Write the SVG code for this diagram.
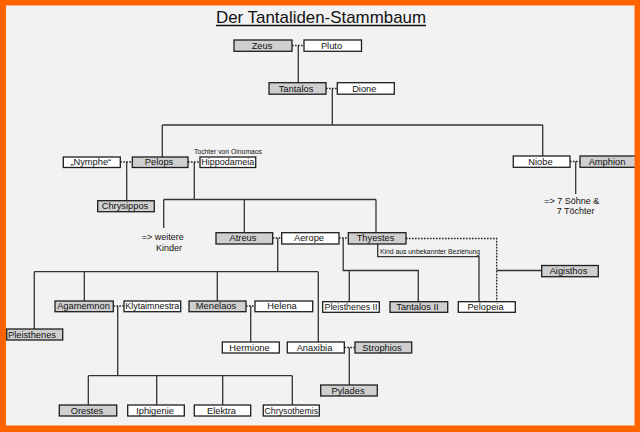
<svg xmlns="http://www.w3.org/2000/svg" width="640" height="432" viewBox="0 0 640 432">
<style>
.bg{fill:#f2f2f2}
.frame{fill:#ff6400;fill-rule:evenodd}
.n rect{stroke:#1e1e1e;stroke-width:1.3}
.g rect{fill:#cfcfcf}
.w rect{fill:#ffffff}
.n text{font-family:"Liberation Sans",Arial,sans-serif;font-size:9.3px;fill:#111;text-anchor:middle}
.c path{fill:none;stroke:#333;stroke-width:1.3}
.c path.d{stroke:#222;stroke-dasharray:1.6 1.4}
.t{font-family:"Liberation Sans",Arial,sans-serif;fill:#111}
</style>
<rect class="bg" x="0" y="0" width="640" height="432"/>
<g id="title">
<text class="t" x="216" y="23" font-size="17" textLength="210" lengthAdjust="spacingAndGlyphs">Der Tantaliden-Stammbaum</text>
<path d="M216,25.5 H426" stroke="#111" stroke-width="1.4"/>
</g>
<g id="connectors" class="c">
<path d="M298.3,45.5 V82.7"/>
<path d="M332.3,88.5 V125 M162.3,125 H542.7 M162.3,125 V157 M542.7,125 V156"/>
<path d="M126.7,162 V200.7"/>
<path d="M194.3,162 V199.5 M163.7,199.5 H376 M163.7,199.5 V228 M244.3,199.5 V232.7 M376,199.5 V232.7"/>
<path d="M575.7,161.5 V194"/>
<path d="M277.7,238 V271.7 M34.3,271.7 H318.3 M34.3,271.7 V329 M84.3,271.7 V301 M217.3,271.7 V301 M318.3,271.7 V342"/>
<path d="M343.2,238 V270.5 H418.3 V301.7 M349.3,270.5 V301.7"/>
<path d="M377.7,244 V256.7 H479 V301.7"/>
<path d="M496.7,270.5 H541.7"/>
<path d="M117.7,306 V375.7 M88.3,375.7 H292.3 M88.3,375.7 V405 M156.7,375.7 V405 M222.7,375.7 V405 M292.3,375.7 V405"/>
<path d="M250.7,306 V342"/>
<path d="M349.3,347.5 V385"/>
<path class="d" d="M292,45.5 H304"/>
<path class="d" d="M326,88.5 H337.3"/>
<path class="d" d="M120.3,162 H132.3"/>
<path class="d" d="M188,162 H200"/>
<path class="d" d="M570,161.5 H580"/>
<path class="d" d="M272.7,238 H281.7"/>
<path class="d" d="M339,238 H348.3"/>
<path class="d" d="M406,238.5 H496.7 V301.7"/>
<path class="d" d="M113.3,306 H124"/>
<path class="d" d="M246,306 H255"/>
<path class="d" d="M344.3,347.5 H355"/>
</g>
<g id="zeus" class="n g"><rect x="234" y="40" width="58" height="11.3"/><text x="262" y="48.8">Zeus</text></g>
<g id="pluto" class="n w"><rect x="304" y="40" width="57.5" height="11.3"/><text x="331.5" y="48.8">Pluto</text></g>
<g id="tantalos" class="n g"><rect x="269" y="82.7" width="57" height="11.5"/><text x="296" y="91.5">Tantalos</text></g>
<g id="dione" class="n w"><rect x="337.3" y="82.7" width="57" height="11.5"/><text x="364.3" y="91.5">Dione</text></g>
<g id="nymphe" class="n w"><rect x="63.3" y="157" width="57" height="10.5"/><text x="90.8" y="165.3">„Nymphe“</text></g>
<g id="pelops" class="n g"><rect x="132.3" y="157" width="55.7" height="10.5"/><text x="159" y="165.3">Pelops</text></g>
<g id="hippodameia" class="n w"><rect x="200" y="157" width="55.7" height="10.5"/><text x="227.8" y="165.3" textLength="53" lengthAdjust="spacingAndGlyphs">Hippodameia</text></g>
<text class="t" x="194" y="153.5" font-size="6.8">Tochter von Oinomaos</text>
<g id="chrysippos" class="n g"><rect x="97.7" y="200.7" width="56.6" height="11"/><text x="125" y="209.3">Chrysippos</text></g>
<g id="niobe" class="n w"><rect x="513.3" y="156" width="56.7" height="11.3"/><text x="540.5" y="164.6">Niobe</text></g>
<g id="amphion" class="n g"><rect x="580" y="156" width="56" height="11.3"/><text x="607" y="164.6">Amphion</text></g>
<text class="t" x="544.3" y="204" font-size="9">=&gt; 7 Söhne &amp;</text>
<text class="t" x="556.7" y="214" font-size="9">7 Töchter</text>
<text class="t" x="141.7" y="240" font-size="9">=&gt; weitere</text>
<text class="t" x="156" y="251" font-size="9">Kinder</text>
<g id="atreus" class="n g"><rect x="216" y="232.7" width="56.7" height="11.3"/><text x="243" y="241.4">Atreus</text></g>
<g id="aerope" class="n w"><rect x="281.7" y="232.7" width="57.3" height="11.3"/><text x="309" y="241.4">Aerope</text></g>
<g id="thyestes" class="n g"><rect x="348.3" y="232.7" width="57.7" height="11.3"/><text x="375.5" y="241.4">Thyestes</text></g>
<text class="t" x="380" y="254.3" font-size="6.8">Kind aus unbekannter Beziehung</text>
<g id="aigisthos" class="n g"><rect x="541.7" y="265.5" width="56.6" height="11.2"/><text x="568.5" y="274.2">Aigisthos</text></g>
<g id="pleisthenes2" class="n w"><rect x="322.7" y="301.7" width="56.6" height="10.6"/><text x="351" y="310" textLength="53" lengthAdjust="spacingAndGlyphs">Pleisthenes II</text></g>
<g id="tantalos2" class="n g"><rect x="390" y="301.7" width="57.7" height="10.6"/><text x="417.5" y="310">Tantalos II</text></g>
<g id="pelopeia" class="n w"><rect x="458.3" y="301.7" width="57" height="10.6"/><text x="485.5" y="310">Pelopeia</text></g>
<g id="agamemnon" class="n g"><rect x="55" y="301" width="58.3" height="10.7"/><text x="83.5" y="309.4">Agamemnon</text></g>
<g id="klytaimnestra" class="n w"><rect x="124" y="301" width="56.7" height="10.7"/><text x="152.3" y="309.4" textLength="54" lengthAdjust="spacingAndGlyphs">Klytaimnestra</text></g>
<g id="menelaos" class="n g"><rect x="189" y="301" width="57" height="10.7"/><text x="216" y="309.4">Menelaos</text></g>
<g id="helena" class="n w"><rect x="255" y="301" width="57.7" height="10.7"/><text x="282" y="309.4">Helena</text></g>
<g id="pleisthenes" class="n g"><rect x="6.7" y="329" width="56" height="11"/><text x="32" y="337.6">Pleisthenes</text></g>
<g id="hermione" class="n w"><rect x="222.3" y="342" width="57" height="11"/><text x="249.5" y="350.6">Hermione</text></g>
<g id="anaxibia" class="n w"><rect x="287.3" y="342" width="57" height="11"/><text x="314.5" y="350.6">Anaxibia</text></g>
<g id="strophios" class="n g"><rect x="355" y="342" width="56.7" height="11"/><text x="382" y="350.6">Strophios</text></g>
<g id="pylades" class="n g"><rect x="320.7" y="385" width="56.6" height="11"/><text x="348" y="393.6">Pylades</text></g>
<g id="orestes" class="n g"><rect x="59.3" y="405" width="57.4" height="11"/><text x="87" y="413.6">Orestes</text></g>
<g id="iphigenie" class="n w"><rect x="127.7" y="405" width="56.6" height="11"/><text x="155" y="413.6">Iphigenie</text></g>
<g id="elektra" class="n w"><rect x="194.3" y="405" width="56.4" height="11"/><text x="221.5" y="413.6">Elektra</text></g>
<g id="chrysothemis" class="n w"><rect x="263.3" y="405" width="56" height="11"/><text x="291.3" y="413.6" textLength="53.5" lengthAdjust="spacingAndGlyphs">Chrysothemis</text></g>
<path class="frame" d="M0,0 H640 V432 H0 Z M6,5.5 V425.5 H634.5 V5.5 Z"/>
</svg>
